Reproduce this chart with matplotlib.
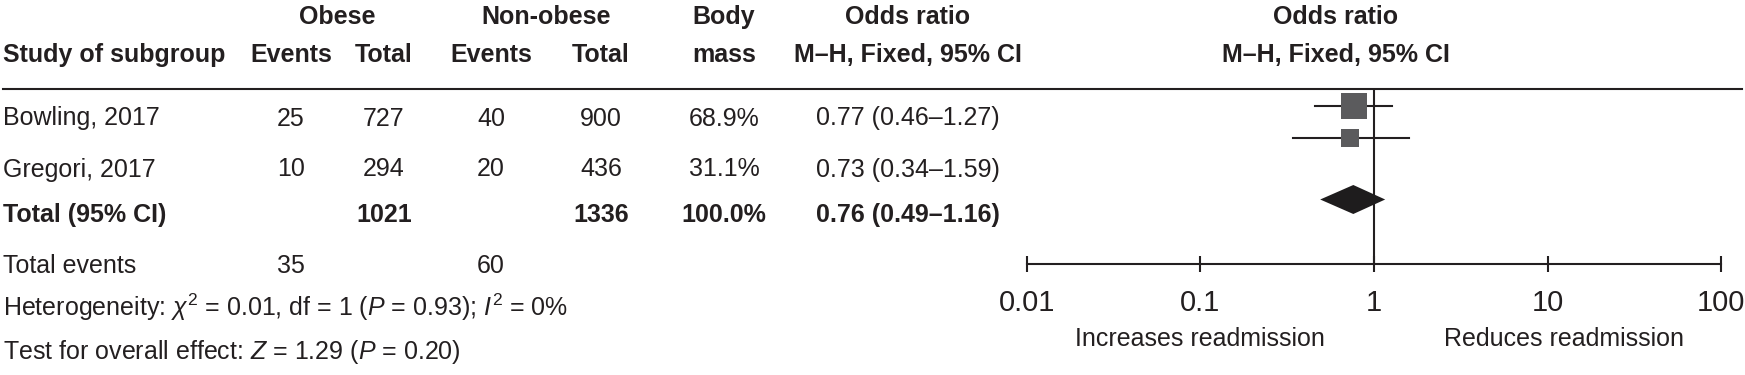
import matplotlib
matplotlib.use('Agg')
import matplotlib.pyplot as plt
from matplotlib.ticker import NullLocator
import numpy as np

plt.rcParams['font.family'] = ['Liberation Sans', 'DejaVu Sans']
plt.rcParams['mathtext.fontset'] = 'custom'
plt.rcParams['mathtext.rm'] = 'Liberation Sans'
plt.rcParams['mathtext.it'] = 'Liberation Sans:italic'

# data
studies = ["Bowling, 2017", "Gregori, 2017"]
obese_events = [25, 10]
obese_total = [727, 294]
non_events = [40, 20]
non_total = [900, 436]
weights = [68.9, 31.1]
odds = [0.77, 0.73]
ci_low = [0.46, 0.34]
ci_high = [1.27, 1.59]
total_or = 0.76
total_lo = 0.49
total_hi = 1.16
total_weight = 100.0
total_obese_n = 1021
total_non_n = 1336
total_obese_ev = 35
total_non_ev = 60
het_text = r"Heterogeneity: $\chi^2$ = 0.01, df = 1 ($P$ = 0.93); $I^2$ = 0%"
effect_text = r"Test for overall effect: $Z$ = 1.29 ($P$ = 0.20)"
axis_ticks = [0.01, 0.1, 1, 10, 100]
tick_labels = ['0.01', '0.1', '1', '10', '100']

W, H = 1745, 375
ink = '#231f20'
fs = 18

fig = plt.figure(figsize=(W / 100, H / 100), dpi=100)
ax = fig.add_axes([0, 0, 1, 1])
ax.set_xlim(0, W)
ax.set_ylim(H, 0)
ax.axis('off')

# column centres (px)
c_ev_ob, c_tot_ob, c_ev_non, c_tot_non, c_w, c_or = 291, 384, 491, 601, 724, 908

def txt(x, y, s, ha='center', bold=False, size=fs):
    ax.text(x, y, s, ha=ha, va='baseline', fontsize=size, color=ink,
            fontweight='bold' if bold else 'normal')

# headers
txt(337, 24, "Obese", bold=True)
txt(546, 24, "Non-obese", bold=True)
txt(c_w, 24, "Body", bold=True)
txt(c_or, 24, "Odds ratio", bold=True)
txt(1336, 24, "Odds ratio", bold=True)
txt(3, 62, "Study of subgroup", ha='left', bold=True)
txt(c_ev_ob, 62, "Events", bold=True)
txt(c_tot_ob, 62, "Total", bold=True)
txt(c_ev_non, 62, "Events", bold=True)
txt(c_tot_non, 62, "Total", bold=True)
txt(c_w, 62, "mass", bold=True)
txt(c_or, 62, "M\u2013H, Fixed, 95% CI", bold=True)
txt(1336, 62, "M\u2013H, Fixed, 95% CI", bold=True)

ax.plot([3, 1742], [89, 89], color=ink, lw=1.5)

# study rows
row_base = [125.5, 176.5]
for i, name in enumerate(studies):
    y = row_base[i]
    txt(3, y, name, ha='left')
    txt(c_ev_ob, y, str(obese_events[i]))
    txt(c_tot_ob, y, str(obese_total[i]))
    txt(c_ev_non, y, str(non_events[i]))
    txt(c_tot_non, y, str(non_total[i]))
    txt(c_w, y, f"{weights[i]:.1f}%")
    txt(c_or, y, f"{odds[i]:.2f} ({ci_low[i]:.2f}\u2013{ci_high[i]:.2f})")

y_tot = 222
txt(3, y_tot, "Total (95% CI)", ha='left', bold=True)
txt(c_tot_ob, y_tot, str(total_obese_n), bold=True)
txt(c_tot_non, y_tot, str(total_non_n), bold=True)
txt(c_w, y_tot, f"{total_weight:.1f}%", bold=True)
txt(c_or, y_tot, f"{total_or:.2f} ({total_lo:.2f}\u2013{total_hi:.2f})", bold=True)

txt(3, 273, "Total events", ha='left')
txt(c_ev_ob, 273, str(total_obese_ev))
txt(c_ev_non, 273, str(total_non_ev))
txt(3, 316, het_text, ha='left')
txt(3, 359, effect_text, ha='left')

# forest plot axes: 0.01 -> 1026.7 px, 100 -> 1721.3 px
x0, x1 = 1026.7, 1721.3
af = fig.add_axes([x0 / W, 0, (x1 - x0) / W, 1])
af.set_xscale('log')
af.set_xlim(0.01, 100)
af.set_ylim(H, 0)
af.patch.set_visible(False)
for s in ['left', 'right', 'top']:
    af.spines[s].set_visible(False)
af.spines['bottom'].set_position(('data', 264.3))
af.spines['bottom'].set_color(ink)
af.spines['bottom'].set_linewidth(1.5)
af.set_yticks([])
af.set_xticks(axis_ticks)
af.set_xticklabels(tick_labels)
af.xaxis.set_minor_locator(NullLocator())
af.tick_params(axis='x', direction='inout', length=12, width=1.5, color=ink,
               labelsize=21, labelcolor=ink, pad=12)

af.vlines(1, 89, 264.3, color=ink, lw=1.5)

study_y = [105.5, 137.5]
side_px = 3.13 * np.sqrt(weights)
for i in range(len(studies)):
    af.plot([ci_low[i], ci_high[i]], [study_y[i], study_y[i]], color=ink, lw=1.5)
    af.scatter([odds[i]], [study_y[i]], marker='s', s=(side_px[i] * 0.72) ** 2,
               color='#5b5b5d', linewidths=0, zorder=3)

dy = 199.5
af.fill([total_lo, total_or, total_hi, total_or], [dy, dy - 14.5, dy, dy + 14.5],
        color='#1e1c1d', lw=0, zorder=3)

af.text(0.1, 346, "Increases readmission", ha='center', va='baseline', fontsize=fs, color=ink)
af.text(12.4, 346, "Reduces readmission", ha='center', va='baseline', fontsize=fs, color=ink)

fig.savefig('out.png', dpi=100)
